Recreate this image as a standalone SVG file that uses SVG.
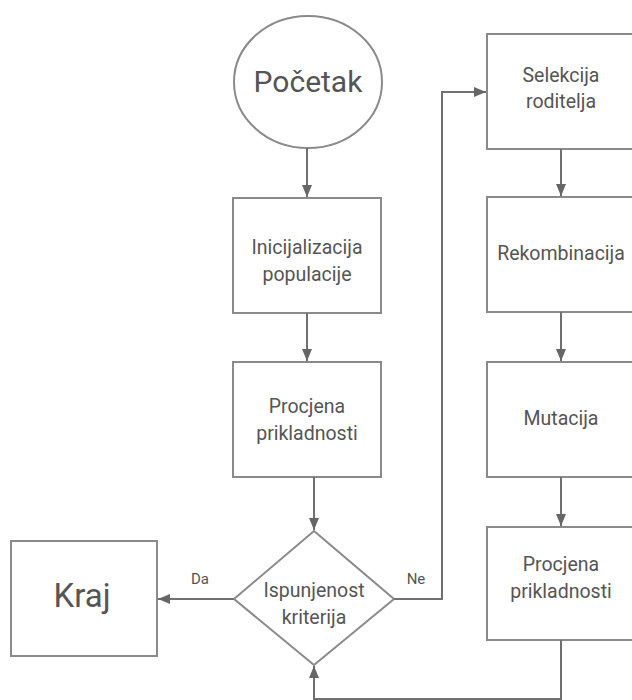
<svg xmlns="http://www.w3.org/2000/svg" width="632" height="700" viewBox="0 0 632 700">
<defs>
<marker id="arr" viewBox="0 0 12 12" refX="12" refY="6" markerWidth="12" markerHeight="12" markerUnits="userSpaceOnUse" orient="auto">
<path d="M0,1 L12,6 L0,11 Z" fill="#666"/>
</marker>
<style>
.box{fill:#fff;stroke:#8a8a8a;stroke-width:2}
.t{font-family:Roboto,"Noto Sans",sans-serif;font-size:19.5px;fill:#555;text-anchor:middle}
.big{font-size:30px}
.kr{font-size:33px}
.lbl{font-size:15px}
.c{fill:none;stroke:#707070;stroke-width:2}
</style>
</defs>
<rect width="632" height="700" fill="#fff"/>
<g id="pocetak">
<ellipse class="box" cx="308" cy="82" rx="74" ry="66"/>
<text class="t big" x="308" y="92">Početak</text>
</g>
<g id="inicijalizacija">
<rect class="box" x="233" y="198" width="148" height="115"/>
<text class="t" x="307" y="254">Inicijalizacija</text>
<text class="t" x="307" y="281">populacije</text>
</g>
<g id="procjena1">
<rect class="box" x="233" y="362" width="148" height="115"/>
<text class="t" x="307" y="413">Procjena</text>
<text class="t" x="307" y="440">prikladnosti</text>
</g>
<g id="ispunjenost">
<polygon class="box" points="314,531 394,599 314,665 234,599"/>
<text class="t" x="314" y="597">Ispunjenost</text>
<text class="t" x="314" y="624">kriterija</text>
</g>
<g id="kraj">
<rect class="box" x="11" y="541" width="146" height="115"/>
<text class="t kr" x="82" y="607">Kraj</text>
</g>
<g id="selekcija">
<rect class="box" x="487" y="34" width="150" height="115"/>
<text class="t" x="561" y="82">Selekcija</text>
<text class="t" x="561" y="108">roditelja</text>
</g>
<g id="rekombinacija">
<rect class="box" x="487" y="197" width="150" height="115"/>
<text class="t" x="561" y="260">Rekombinacija</text>
</g>
<g id="mutacija">
<rect class="box" x="487" y="362" width="150" height="115"/>
<text class="t" x="561" y="425">Mutacija</text>
</g>
<g id="procjena2">
<rect class="box" x="487" y="527" width="150" height="113"/>
<text class="t" x="561" y="571">Procjena</text>
<text class="t" x="561" y="598">prikladnosti</text>
</g>
<g id="connectors">
<path class="c" d="M307,148 L307,197" marker-end="url(#arr)"/>
<path class="c" d="M307,313 L307,361" marker-end="url(#arr)"/>
<path class="c" d="M314,477 L314,530" marker-end="url(#arr)"/>
<path class="c" d="M234,599 L158,599" marker-end="url(#arr)"/>
<path class="c" d="M394,599 L442,599 L442,92 L486,92" marker-end="url(#arr)"/>
<path class="c" d="M561,149 L561,196" marker-end="url(#arr)"/>
<path class="c" d="M561,312 L561,361" marker-end="url(#arr)"/>
<path class="c" d="M561,477 L561,526" marker-end="url(#arr)"/>
<path class="c" d="M561,640 L561,699 L314,699 L314,666" marker-end="url(#arr)"/>
<text class="t lbl" x="200" y="584">Da</text>
<text class="t lbl" x="416" y="584">Ne</text>
</g>
</svg>
